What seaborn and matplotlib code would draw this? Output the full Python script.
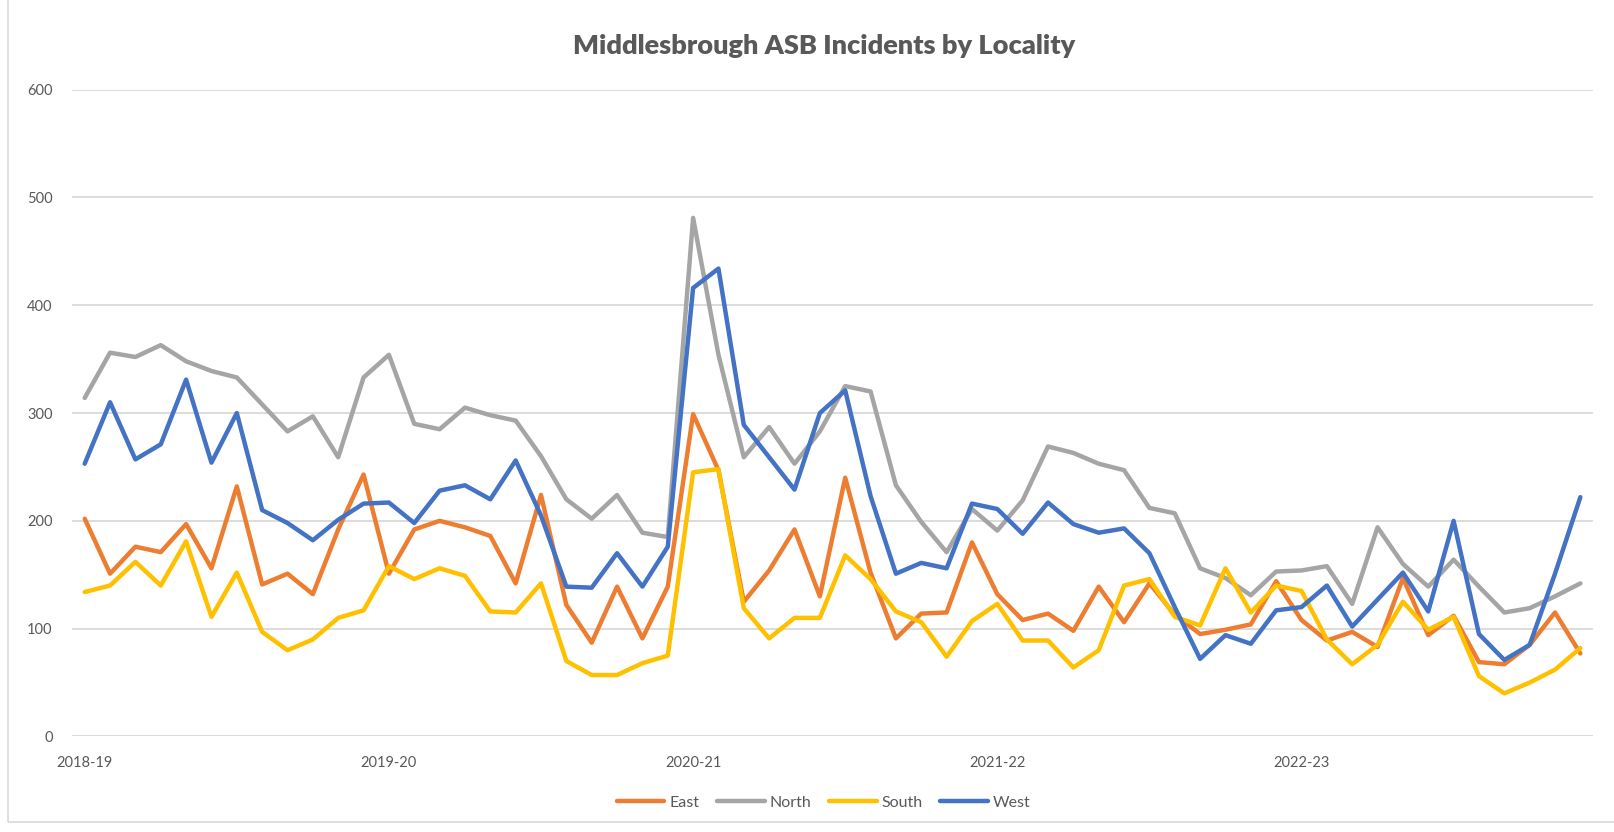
import pandas as pd
import matplotlib.pyplot as plt
import seaborn as sns
from matplotlib.patches import Rectangle

# -----------------------------
# DATA (monthly ASB incidents, Apr 2018 - Mar 2023)
# -----------------------------
years = ["2018-19", "2019-20", "2020-21", "2021-22", "2022-23"]
months_per_year = 12

east = [202, 151, 176, 171, 197, 156, 232, 141, 151, 132,
        192, 243, 151, 192, 200, 194, 186, 142, 224, 122,
        87, 139, 91, 139, 299, 247, 125, 154, 192, 130,
        240, 152, 91, 114, 115, 180, 132, 108, 114, 98,
        139, 106, 142, 113, 95, 99, 104, 144, 108, 89,
        97, 83, 147, 94, 112, 69, 67, 85, 115, 77]

north = [314, 356, 352, 363, 348, 339, 333, 308, 283, 297,
         259, 333, 354, 290, 285, 305, 298, 293, 260, 220,
         202, 224, 189, 185, 481, 354, 259, 287, 253, 283,
         325, 320, 233, 199, 171, 211, 191, 219, 269, 263,
         253, 247, 212, 207, 156, 147, 131, 153, 154, 158,
         123, 194, 160, 139, 164, 139, 115, 119, 130, 142]

south = [134, 140, 162, 140, 181, 111, 152, 97, 80, 90,
         110, 117, 158, 146, 156, 149, 116, 115, 142, 70,
         57, 57, 68, 75, 245, 248, 119, 91, 110, 110,
         168, 146, 116, 106, 74, 107, 123, 89, 89, 64,
         80, 140, 146, 111, 103, 156, 115, 140, 135, 90,
         67, 85, 125, 99, 111, 56, 40, 50, 62, 82]

west = [253, 310, 257, 271, 331, 254, 300, 210, 198, 182,
        201, 216, 217, 198, 228, 233, 220, 256, 205, 139,
        138, 170, 139, 176, 416, 434, 289, 259, 229, 300,
        321, 223, 151, 161, 156, 216, 211, 188, 217, 197,
        189, 193, 170, 120, 72, 94, 86, 117, 120, 140,
        102, 127, 152, 116, 200, 95, 71, 85, 151, 222]

localities = ["East", "North", "South", "West"]
colors = {"East": "#ED7D31", "North": "#A5A5A5", "South": "#FFC000", "West": "#4472C4"}

series = {"East": east, "North": north, "South": south, "West": west}
rows = []
for name in localities:
    for i, v in enumerate(series[name]):
        rows.append({"month": i, "Locality": name, "incidents": v})
df = pd.DataFrame(rows)

# -----------------------------
# PLOT
# -----------------------------
sns.set_theme(style="white")
plt.rcParams["font.family"] = ["Lato", "DejaVu Sans"]

fig = plt.figure(figsize=(16.15, 8.32), dpi=100)
ax = fig.add_axes([0.0446, 0.1148, 0.9418, 0.7775])

sns.lineplot(data=df, x="month", y="incidents", hue="Locality",
             hue_order=localities, palette=colors, linewidth=3.2,
             ax=ax, legend=True)

n = len(east)
ax.set_xlim(-0.5, n - 0.5)
ax.set_ylim(0, 600)
ax.set_yticks(range(0, 601, 100))
ax.set_xticks([k * months_per_year for k in range(len(years))])
ax.set_xticklabels(years)
ax.set_xlabel("")
ax.set_ylabel("")
ax.grid(axis="y", color="#D9D9D9", linewidth=1.3)
ax.set_axisbelow(True)
for s in ax.spines.values():
    s.set_visible(False)
ax.tick_params(axis="both", length=0, labelsize=10.5, colors="#595959")
ax.tick_params(axis="x", pad=14)
ax.tick_params(axis="y", pad=14)

fig.text(0.51, 0.945, "Middlesbrough ASB Incidents by Locality",
         ha="center", va="center", fontsize=19.5, fontweight="heavy", color="#595959")

handles, labels = ax.get_legend_handles_labels()
for h in handles:
    h.set_linewidth(3.2)
ax.legend(handles, labels, loc="center", bbox_to_anchor=(0.51, 0.035),
          bbox_transform=fig.transFigure, ncol=4, frameon=False,
          fontsize=11.5, handlelength=3.0, handletextpad=0.3, columnspacing=1.1,
          labelcolor="#595959")

# chart area border
fig.patches.append(Rectangle((8, 10), 1700, 900, transform=None,
                             fill=False, edgecolor="#D9D9D9", linewidth=1.2))

plt.savefig("out.png", dpi=100)
